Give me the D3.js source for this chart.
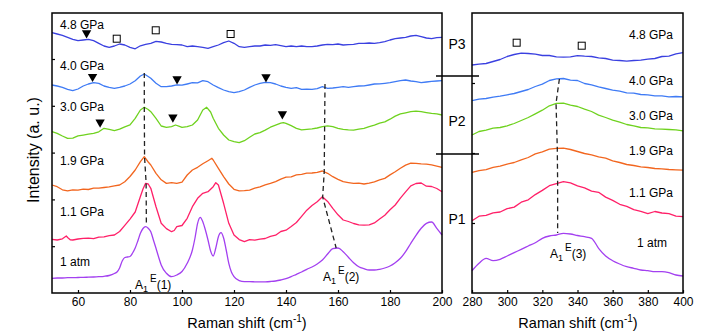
<!DOCTYPE html>
<html><head><meta charset="utf-8">
<script src="https://cdn.jsdelivr.net/npm/d3@7"></script>
<style>
html,body{margin:0;padding:0;background:#fff;}
svg{display:block;font-family:"Liberation Sans",Arial,sans-serif;}
</style></head>
<body><svg id="c" width="709" height="332"></svg>
<script>
// ---------- data ----------
const pressures = ["1 atm","1.1 GPa","1.9 GPa","3.0 GPa","4.0 GPa","4.8 GPa"];
const seriesColors = ["#a340f0","#ff2068","#f2661f","#6fd21f","#3f7bf5","#3a40e0"];
const leftTicks = [60,80,100,120,140,160,180,200];
const rightTicks = [280,300,320,340,360,380,400];
const phaseLabels = ["P3","P2","P1"];

// low-frequency spectra: [Raman shift, intensity (a.u.)]
const left1atm = [[50,14.7],[52,15],[54,15],[56,15.3],[58,15.3],[60,15.5],[62,15.6],[64,15.8],[66,16],[68,16.3],[70,16.7],[72,17.5],[74,19.5],[75,21],[76,25],[77,32],[78,35.5],[79,36],[80,36.5],[81,40],[82,45],[83,52],[84,59.7],[85,64.5],[86,66.3],[87,64.8],[88,61.3],[89,53],[90,44.7],[91,36],[92,28],[94,19.7],[96,16.3],[98,18],[100,21.5],[102,29.7],[104,43],[105,55],[106,69.7],[107,75.7],[108,71.3],[109,63],[110,53],[111,42],[112,37],[113,45],[114,56.3],[115,60.3],[116,55],[117,43],[118,29.7],[119,21],[120,16.3],[122,12.3],[124,11.3],[126,11.3],[128,11.2],[130,11.1],[132,11.2],[134,11.5],[136,12],[138,13],[140,14.3],[142,16.3],[144,18.7],[146,21],[148,23.7],[150,26],[152,29],[154,33],[156,39],[158,44.3],[160,45],[162,41.3],[164,35.7],[166,30.3],[168,26.3],[170,24.3],[172,23],[174,23],[176,23.7],[178,25],[180,27],[182,30.3],[184,34.7],[186,41.3],[188,49.7],[190,57.7],[192,64.7],[194,69.7],[196,71],[198,64.7],[200,58]];
const left11 = [[50,53.7],[52,53],[54,54.2],[55.5,57],[56,55.5],[57,53.2],[58,53],[60,54],[62,54.6],[64,54.8],[66,54.3],[68,55.9],[70,56.2],[72,57.3],[74,58],[76,61.5],[78,67.6],[80,73.9],[82,81],[84,96.5],[85,104],[86,109.7],[87,109],[88,104.7],[90,86.3],[92,69.7],[94,64.4],[96,61.3],[97,62.5],[98,66.3],[100,67.5],[102,74.7],[104,86.3],[106,94.7],[108,99.7],[110,101.3],[112,106.3],[113,110.3],[114,108],[116,89.7],[118,69.7],[120,58],[122,53.4],[124,51.3],[126,53.3],[128,52.8],[130,53.9],[132,54.5],[134,56.6],[136,57.8],[138,61.5],[140,62.8],[142,66.5],[144,70.5],[146,76.6],[148,82.8],[150,87.5],[152,91.3],[154,96.3],[156,91.6],[158,84.7],[160,78.2],[162,73],[164,71.5],[166,69.5],[168,68.2],[170,67.8],[172,68.2],[174,70.1],[176,73.9],[178,77.8],[180,83.2],[182,88],[184,94.8],[186,101.1],[188,107.2],[190,109.5],[192,110],[194,106.8],[196,106.5],[198,104.5],[200,101.3]];
const left19 = [[50,108],[52,106.3],[54,103.2],[56,102.1],[58,103.2],[60,102.8],[62,103.9],[64,103.5],[66,104.8],[68,104.9],[70,105.5],[72,106.2],[74,107.2],[76,108],[78,111.3],[80,116.5],[82,123],[84,131.3],[85.5,136.3],[87,131],[88,128],[90,119.7],[92,113.2],[94,109.6],[96,110.4],[98,109.6],[100,110.8],[102,118],[104,123],[106,125.7],[108,129.2],[110,132.3],[111.5,134.7],[112,133],[114,124.7],[116,116.3],[118,109],[120,103.7],[122,102.1],[124,102.4],[126,102.9],[128,104.8],[130,106.2],[132,108.1],[134,109.6],[136,111.4],[138,113.9],[140,115.8],[142,116.2],[144,118.1],[146,118.6],[148,119.8],[150,120],[152,120.7],[154,122],[156,119.7],[158,116.3],[160,113.7],[162,111.3],[164,110.4],[166,109.6],[168,109.8],[170,109],[172,109.8],[174,111.2],[176,113.1],[178,114.6],[180,118.1],[182,121.2],[184,124.8],[186,127.9],[188,129.8],[190,129.6],[192,129.1],[194,128.9],[196,128.1],[198,126.9],[200,125.7]];
const left30 = [[50,161.3],[52,159.7],[54,157],[56,154.7],[58,154.9],[60,157.1],[62,157.9],[64,158.8],[66,159.6],[68,161.2],[70,164.7],[72,163.6],[74,162.4],[76,163.8],[78,166.2],[80,168.1],[82,174.7],[84,183],[85.5,185.7],[87,183.5],[88,181.3],[90,174.7],[92,167],[94,165.7],[96,166.4],[97.5,168],[99,166.7],[100,165.7],[102,166.3],[104,168],[106,173],[108,183],[109.5,185.7],[111,181],[112,174.7],[114,164.7],[116,158],[118,153],[120,151.3],[122,150.3],[124,152.3],[126,155.7],[128,159],[130,160.4],[132,162.9],[134,165.8],[136,167.9],[138,169.8],[139,170.3],[140,169.6],[142,167.3],[144,164.7],[146,163.1],[148,163.6],[150,164.2],[152,165],[154,166.3],[156,167.1],[158,166.3],[160,164.6],[162,163.7],[164,163.1],[166,162.9],[168,163.8],[170,164.6],[172,166.4],[174,167.9],[176,169.8],[178,171.2],[180,173.8],[182,176.9],[184,179.1],[186,180.2],[188,181.4],[190,181.9],[192,181.3],[194,180.4],[196,179.6],[198,179.1],[200,178]];
const left40 = [[50,208],[52,207],[54,205.7],[56,203.7],[58,202.3],[60,204],[62,207],[64,209],[66,210.3],[68,209.7],[70,207],[72,205.7],[74,204.7],[76,205.7],[78,207],[80,209],[82,212.3],[84,217],[85.5,219],[87,216.5],[88,214.7],[90,209.7],[92,206.3],[94,206.4],[96,207],[98,208.2],[100,207.8],[102,209],[104,210.3],[106,210.2],[108,212.3],[110,211.3],[112,208],[114,205.3],[116,203],[118,201.3],[120,200.3],[122,201.3],[124,203],[126,205.7],[128,208],[130,209.7],[132,210.7],[134,210.3],[136,209],[138,207],[140,205.7],[142,204.7],[144,205.3],[146,203.7],[148,203.8],[150,203.7],[152,204.3],[154,206.3],[156,204.7],[158,205],[160,205.7],[162,206.3],[164,205.7],[166,206.3],[168,207],[170,207.1],[172,208],[174,209],[176,209.1],[178,209.7],[180,210.3],[182,211.3],[184,212.3],[186,213],[188,212],[190,211.3],[192,210.3],[194,211],[196,211.7],[198,212],[200,212.3]];
const left48 = [[50,260.3],[52,259],[54,257.7],[56,255.7],[58,253.7],[60,252.3],[62,253],[64,253.7],[66,252.3],[68,249.7],[70,247],[72,245.7],[74,247],[76,249],[78,248],[80,245.7],[82,244.2],[84,247.2],[86,248.7],[88,249.7],[90,251.7],[92,251],[94,249.7],[96,248.7],[98,248.3],[100,248],[102,246.3],[104,247],[106,246.3],[108,245.7],[110,244.7],[112,246.3],[114,248],[116,250.3],[118,252],[120,249.7],[122,246.3],[124,245.7],[126,246.3],[128,247],[130,247],[132,248],[134,247.7],[136,248.3],[138,247.3],[140,246.3],[142,247],[144,246.3],[146,247],[148,246.3],[150,246.3],[152,247],[154,248],[156,248.7],[158,248.3],[160,249],[162,248],[164,248.3],[166,248.7],[168,249.7],[170,249.7],[172,250],[174,249.7],[176,250.3],[178,251.3],[180,253],[182,254.3],[184,255],[186,255.7],[188,257],[190,257.7],[192,256.3],[194,255],[196,254.3],[198,255.3],[200,255.7]];

// high-frequency spectra
const rightShift = [280,284,288,292,296,300,304,308,312,316,320,324,328,332,336,340,344,348,352,356,360,364,368,372,376,380,384,388,392,396,400];
const right1atm = [22.3,29.7,34.7,32.3,33.7,37,40.3,43.7,47,50.3,54.7,57,58,59.7,59,57.5,56.3,54.7,44.7,37,32.3,29,26.3,24.7,23,22.3,21.3,21.3,20.3,18,17];
const right11 = [72.3,76.8,77.6,80.2,81,84.3,85.9,90.8,93.2,98.4,102.6,107.3,109.4,111.3,110.2,107.2,105.1,101.8,100.7,95.9,92.6,88.7,86.6,83.4,81.6,79.4,81.5,80,79.3,76.8,76.3];
const right19 = [120.7,122.3,123.4,125.6,126.8,128.9,130.5,133.2,135.5,139.2,141.1,143.9,144.6,144.8,143.5,141.5,139.5,138.2,136.1,134.9,132.1,130.5,128.5,127.5,126.1,125.5,124.5,124.2,123.5,123.2,122.9];
const right30 = [158,161.5,162.8,164.9,165.5,167.2,169.5,172.5,175.5,179.2,182.8,187.2,189.6,189.8,187.8,186.5,183.8,181.5,177.8,175.5,172.8,170.9,168.5,167.2,165.5,165.2,164.1,163.9,163.5,163.2,162.2];
const right40 = [192.3,193.9,194.5,195.9,196.8,198.2,199.5,201.5,203.5,206.5,208.8,212.5,214.1,214.5,212.8,212.5,209.5,208.2,206.1,204.5,202.8,201.9,200.1,199.9,198.5,198.2,197.1,197.2,196.1,196.5,196.2];
const right48 = [228,228.9,229.5,231.5,233.5,236.5,238.5,239.9,239.5,238.9,237.5,237.5,236.1,235.9,236.1,237.4,236.8,236.5,235.1,234.5,232.8,232.5,231.8,232.5,232.8,233.9,234.5,236.5,236.8,239.2,240.3];

// markers: [shift, intensity]
const triangleMarks = [[63.3,260],[65.6,216.3],[98.1,214],[132.3,216],[68.5,170.7],[96.5,175.7],[138.6,179]];
const squareMarksLeft = [[74.9,254.3],[89.9,262.7],[118.7,259]];
const squareMarksRight = [[305.4,250.3],[342.4,247.3]];

// mode guide lines
const modeA1 = [[85.5,220],[85.5,186],[85.6,136],[86.2,110],[86.3,67]];
const modeA2 = [[155,209],[154.7,121],[154.1,96],[159.3,45]];
const modeA3 = [[329.7,214],[327.8,190],[328.5,145],[328.7,110],[328.7,60]];

// ---------- drawing ----------
const svg = d3.select("#c");
const plotTop = 13, plotBottom = 293;
const xL = d3.scaleLinear().domain([50,200]).range([52,442]);
const xR = d3.scaleLinear().domain([280,400]).range([472,683]);
const y = d3.scaleLinear().domain([0,280]).range([plotBottom,plotTop]);

const leftSeries = [left1atm,left11,left19,left30,left40,left48];
const rightSeries = [right1atm,right11,right19,right30,right40,right48];

const lineL = d3.line().x(d=>xL(d[0])).y(d=>y(d[1]));
const lineL1 = d3.line().x(d=>xL(d[0])).y(d=>y(d[1])).curve(d3.curveMonotoneX);
const lineR = d3.line().x((d,i)=>xR(rightShift[i])).y(d=>y(d));
const lineR1 = d3.line().x((d,i)=>xR(rightShift[i])).y(d=>y(d)).curve(d3.curveMonotoneX);

leftSeries.forEach((s,i)=>{
  svg.append("path").attr("d",(i===0?lineL1:lineL)(s)).attr("fill","none")
    .attr("stroke",seriesColors[i]).attr("stroke-width",1.3).attr("stroke-linejoin","round");
});
rightSeries.forEach((s,i)=>{
  svg.append("path").attr("d",(i===0?lineR1:lineR)(s)).attr("fill","none")
    .attr("stroke",seriesColors[i]).attr("stroke-width",1.3).attr("stroke-linejoin","round");
});

// frames
[[xL,leftTicks],[xR,rightTicks]].forEach(([xs,ticks])=>{
  const r = xs.range();
  svg.append("rect").attr("x",r[0]).attr("y",plotTop).attr("width",r[1]-r[0]).attr("height",plotBottom-plotTop)
    .attr("fill","none").attr("stroke","#000").attr("stroke-width",1.5);
  const ax = svg.append("g").attr("transform",`translate(0,${plotBottom})`)
    .call(d3.axisBottom(xs).tickValues(ticks).tickSize(-3).tickPadding(4));
  ax.select(".domain").remove();
  ax.selectAll("text").attr("font-size",12).attr("fill","#000").attr("font-family","Liberation Sans, Arial, sans-serif");
  ax.selectAll("line").attr("stroke","#000").attr("stroke-width",1.2);
});
// y ticks
const yAxL = svg.append("g").attr("transform",`translate(52,0)`)
  .call(d3.axisLeft(y).tickValues([46.8,93.6,140.4,187.2,234]).tickSize(-3).tickFormat(""));
yAxL.select(".domain").remove();
yAxL.selectAll("line").attr("stroke","#000").attr("stroke-width",1.2);
const yAxR = svg.append("g").attr("transform",`translate(472,0)`)
  .call(d3.axisLeft(y).tickValues([70,140,210]).tickSize(-3).tickFormat(""));
yAxR.select(".domain").remove();
yAxR.selectAll("line").attr("stroke","#000").attr("stroke-width",1.2);

// separators
[76,154].forEach(yy=>{
  svg.append("line").attr("x1",436).attr("x2",479).attr("y1",yy).attr("y2",yy)
    .attr("stroke","#000").attr("stroke-width",1.5);
});
const phaseY = [49,126,223.5];
phaseLabels.forEach((t,i)=>{
  svg.append("text").attr("x",457).attr("y",phaseY[i]).attr("text-anchor","middle")
    .attr("font-size",14).text(t);
});

// dashed guides
const gL = d3.line().x(d=>xL(d[0])).y(d=>y(d[1]));
const gR = d3.line().x(d=>xR(d[0])).y(d=>y(d[1]));
[gL(modeA1),gL(modeA2),gR(modeA3)].forEach(p=>{
  svg.append("path").attr("d",p).attr("fill","none").attr("stroke","#222")
    .attr("stroke-width",1.3).attr("stroke-dasharray","5,3.5");
});

// markers
const tri = d3.symbol().type(d3.symbolTriangle).size(38);
triangleMarks.forEach(d=>{
  svg.append("path").attr("d",tri()).attr("fill","#000")
    .attr("transform",`translate(${xL(d[0])},${y(d[1])}) rotate(180)`);
});
squareMarksLeft.forEach(d=>{
  svg.append("rect").attr("x",xL(d[0])-3.5).attr("y",y(d[1])-3.5).attr("width",7).attr("height",7)
    .attr("fill","#fff").attr("stroke","#000").attr("stroke-width",1);
});
squareMarksRight.forEach(d=>{
  svg.append("rect").attr("x",xR(d[0])-3.5).attr("y",y(d[1])-3.5).attr("width",7).attr("height",7)
    .attr("fill","#fff").attr("stroke","#000").attr("stroke-width",1);
});

// pressure labels
const leftLabelY = [266,216,165,111,70,29];
const rightLabelY = [247,197,155,120,85,39];
pressures.forEach((p,i)=>{
  svg.append("text").attr("x",60).attr("y",leftLabelY[i]).attr("font-size",12).text(p);
  svg.append("text").attr("x",i===0?637:629).attr("y",rightLabelY[i]).attr("font-size",12).text(p);
});

// mode labels
function modeLabel(x,yb,n){
  const t = svg.append("text").attr("x",x).attr("y",yb).attr("font-size",12);
  t.append("tspan").text("A");
  t.append("tspan").attr("font-size",9).attr("dy",3).text("1");
  t.append("tspan").attr("font-size",10).attr("dx",2).attr("dy",-10).text("E");
  t.append("tspan").attr("dy",7).text("("+n+")");
}
modeLabel(135,289,1);
modeLabel(323,281,2);
modeLabel(550,258,3);

// axis titles
function xTitle(cx){
  const t = svg.append("text").attr("x",cx).attr("y",328).attr("font-size",14.5).attr("text-anchor","middle");
  t.append("tspan").text("Raman shift (cm");
  t.append("tspan").attr("font-size",10).attr("dy",-6).text("-1");
  t.append("tspan").attr("dy",6).text(")");
}
xTitle(247);
xTitle(578);
svg.append("text").attr("transform","translate(39,150) rotate(-90)").attr("text-anchor","middle")
  .attr("font-size",16).text("Intensity (a. u.)");
</script></body></html>
